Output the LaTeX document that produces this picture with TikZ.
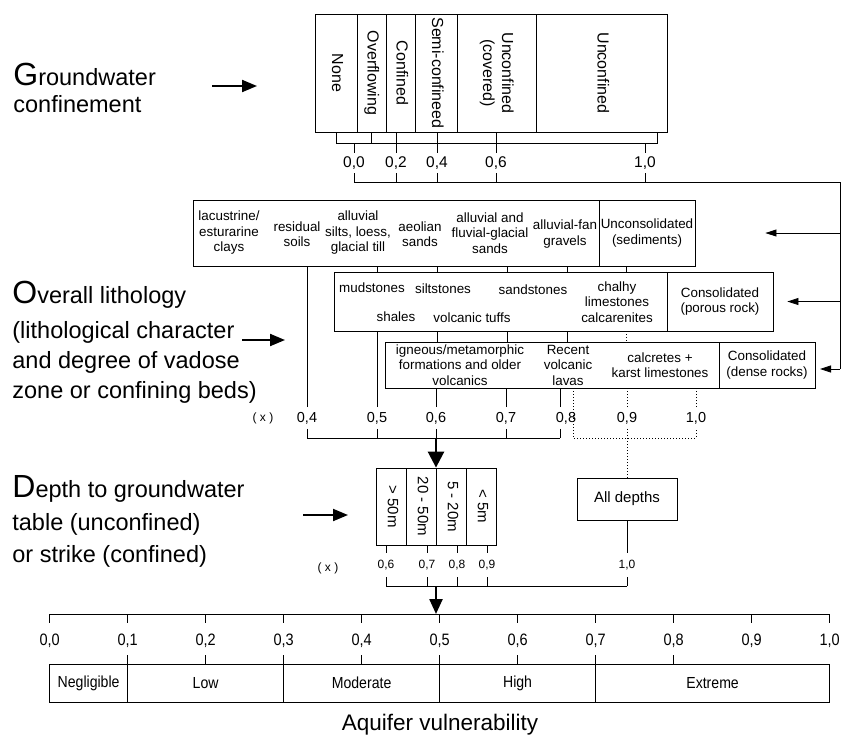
\documentclass[tikz,border=0pt]{standalone}
\usepackage{fontspec}
\usepackage{graphicx}
\setmainfont{Liberation Sans}
\newfontfamily\narrowfont[FakeStretch=0.88]{Liberation Sans}
\usetikzlibrary{arrows.meta}

\newcommand\Ini[1]{{\fontsize{32}{32}\selectfont #1}}
\newcommand\vtext[1]{\rotatebox{-90}{\begin{tabular}{@{}c@{}}#1\end{tabular}}}

\tikzset{
  cell/.style={draw, inner sep=0pt, align=center, font=\fontsize{13.4}{15.5}\selectfont},
  inbox/.style={inner sep=0pt, align=center, font=\fontsize{13.4}{15.5}\selectfont},
  vcell/.style={cell, minimum height=118pt, font=\fontsize{16}{19}\selectfont},
  dcell/.style={cell, minimum width=30pt, minimum height=77pt, font=\fontsize{15}{16}\selectfont},
  gcell/.style={cell, minimum height=38pt, font=\narrowfont\fontsize{16}{16}\selectfont},
  heading/.style={anchor=base west, inner sep=0pt, font=\fontsize{23.5}{27}\selectfont},
  topval/.style={inner sep=0pt, minimum height=20pt, font=\fontsize{15.5}{15.5}\selectfont},
  litval/.style={inner sep=0pt, minimum height=21pt, font=\fontsize{14.5}{14.5}\selectfont},
  depval/.style={inner sep=0pt, minimum height=24pt, font=\fontsize{12}{12}\selectfont},
  axval/.style={inner sep=0pt, minimum height=28pt, font=\narrowfont\fontsize{16.5}{16.5}\selectfont},
  xmark/.style={inner sep=0pt, font=\fontsize{12}{12}\selectfont},
  dots/.style={dash pattern=on 1pt off 2pt},
  sidearrow/.style={line width=2pt, -{Triangle[length=15pt,width=12pt]}},
  rarrow/.style={-{Triangle[length=11pt,width=7pt]}},
  bigarrow/.style={line width=2.6pt, -{Triangle[length=16pt,width=16pt]}}
}

\begin{document}
\begin{tikzpicture}[x=1pt, y=-1pt, line width=0.8pt]
\useasboundingbox (0,0) rectangle (845,737);

% headings on the left
\node[heading] (gw1) at (13,85) {\Ini{G}roundwater};
\node[heading] (gw2) at (13,112) {confinement};
\node[heading] (ol1) at (12,303) {\Ini{O}verall lithology};
\node[heading] (ol2) at (12,338) {(lithological character};
\node[heading] (ol3) at (12,368) {and degree of vadose};
\node[heading] (ol4) at (12,398) {zone or confining beds)};
\node[heading] (dt1) at (12,497) {\Ini{D}epth to groundwater};
\node[heading] (dt2) at (12,530) {table (unconfined)};
\node[heading] (dt3) at (12,562) {or strike (confined)};
\coordinate (gwa) at (212,86);
\coordinate (ola) at (242,340);
\coordinate (dta) at (303,515);
\draw[sidearrow] (gwa) -- ++(45,0);
\draw[sidearrow] (ola) -- ++(43,0);
\draw[sidearrow] (dta) -- ++(45,0);

% groundwater confinement
\node[vcell, minimum width=42pt] (none) at (336,73) {\vtext{None}};
\node[vcell, minimum width=29pt] (overfl) at (371.5,73) {\vtext{Overflowing}};
\node[vcell, minimum width=29pt] (confd) at (400.5,73) {\vtext{Confined}};
\node[vcell, minimum width=42pt] (semi) at (436,73) {\vtext{Semi-confineed}};
\node[vcell, minimum width=79pt] (uncov) at (496.5,73) {\vtext{Unconfined\\(covered)}};
\node[vcell, minimum width=131pt] (unconf) at (601.5,73) {\vtext{Unconfined}};

\node[topval] (c00) at (354,163) {0,0};
\node[topval] (c02) at (396,163) {0,2};
\node[topval] (c04) at (437,163) {0,4};
\node[topval] (c06) at (496,163) {0,6};
\node[topval] (c10) at (645,163) {1,0};
\coordinate (cbr) at (0,143);
\coordinate (rt) at (840,182);
\coordinate (rb) at (840,369);
\draw (none.south) |- (657,143) -- (657,0 |- unconf.south);
\draw (overfl.south) -- (overfl.south |- cbr);
\draw (c00.north) -- (c00.north |- cbr);
\draw (c10.north) -- (c10.north |- cbr);
\foreach \v/\c in {c02/confd, c04/semi, c06/uncov}
  \draw (\v.north) -- (\v.north |- \c.south);
\foreach \v in {c00,c02,c04,c06,c10}
  \draw (\v.south) -- (\v.south |- rt);
\draw (c00.south |- rt) -- (rt) -- (rb);

% overall lithology
\node[cell, minimum width=406pt, minimum height=66pt] (unc) at (396,233) {};
\node[cell, minimum width=96pt, minimum height=66pt] (sed) at (647,233) {Unconsolidated\\(sediments)};
\node[cell, minimum width=333pt, minimum height=59pt] (porc) at (500.5,301.5) {};
\node[cell, minimum width=106pt, minimum height=59pt] (por) at (720,301.5) {Consolidated\\(porous rock)};
\node[cell, minimum width=334pt, minimum height=46pt] (denc) at (552,365) {};
\node[cell, minimum width=96pt, minimum height=46pt] (den) at (767,365) {Consolidated\\(dense rocks)};

\node[inbox] (clay) at (229,233) {lacustrine/\\esturarine\\clays};
\node[inbox] (soil) at (297,234) {residual\\soils};
\node[inbox] (till) at (358,233) {alluvial\\silts, loess,\\glacial till};
\node[inbox] (aeol) at (420,234) {aeolian\\sands};
\node[inbox] (fluv) at (490,233) {alluvial and\\fluvial-glacial\\sands};
\node[inbox] (fan) at (565,234) {alluvial-fan\\gravels};
\node[inbox] (mud) at (372,288) {mudstones};
\node[inbox] (silt) at (443,289) {siltstones};
\node[inbox] (sand) at (533,290) {sandstones};
\node[inbox] (chalk) at (617,302) {chalhy\\limestones\\calcarenites};
\node[inbox] (shale) at (396,317) {shales};
\node[inbox] (tuff) at (472,318) {volcanic tuffs};
\node[inbox] (igne) at (460,365) {igneous/metamorphic\\formations and older\\volcanics};
\node[inbox] (lava) at (568,365) {Recent\\volcanic\\lavas};
\node[inbox] (karst) at (660,365) {calcretes +\\karst limestones};

\draw[rarrow] (rt |- sed) -- ([xshift=70pt]sed.east);
\draw[rarrow] (rt |- por) -- ([xshift=14pt]por.east);
\draw[rarrow] (rb) -- ++(-20,0);

\node[litval] (l04) at (307,418) {0,4};
\node[litval] (l05) at (377,418) {0,5};
\node[litval] (l06) at (436,418) {0,6};
\node[litval] (l07) at (506,418) {0,7};
\node[litval] (l08) at (566,418) {0,8};
\node[litval] (l09) at (627,418) {0,9};
\node[litval] (l10) at (696,418) {1,0};
\node[xmark] (x1) at (263,418) {( x )};
\coordinate (lbr) at (0,438);

\foreach \x in {377,437,507,567,626}
  \draw (\x,0 |- unc.south) -- (\x,0 |- porc.north);
\foreach \x in {437,507,567}
  \draw (\x,0 |- porc.south) -- (\x,0 |- denc.north);
\draw[dots] (626,0 |- porc.south) -- (626,0 |- denc.north);
\draw (l04.north) -- (l04.north |- unc.south);
\draw (l05.north) -- (l05.north |- porc.south);
\draw (l06.north) -- (l06.north |- denc.south);
\draw (l07.north) -- (l07.north |- denc.south);
\draw (560,0 |- l08.north) -- (560,0 |- denc.south);
\draw[dots] (l09.north) -- (l09.north |- denc.south);
\draw[dots] (l10.north) -- (l10.north |- denc.south);
\foreach \v in {l04,l05,l06,l07}
  \draw (\v.south) -- (\v.south |- lbr);
\draw (560,0 |- l08.south) -- (560,0 |- lbr);
\draw (l04.south |- lbr) -- (560,0 |- lbr);
\draw[dots] (573,0 |- denc.south) -- (573,0 |- lbr) -- (l10.south |- lbr) -- (l10.south);
\draw[dots] (l09.south) -- (l09.south |- lbr);

% depth to groundwater
\node[dcell] (d1) at (391,506.5) {\vtext{> 50m}};
\node[dcell] (d2) at (421,506.5) {\vtext{20 - 50m}};
\node[dcell] (d3) at (451,506.5) {\vtext{5 - 20m}};
\node[dcell] (d4) at (481,506.5) {\vtext{< 5m}};
\node[cell, minimum width=100pt, minimum height=42pt, font=\fontsize{15}{15}\selectfont] (alld) at (627,499) {All depths};
\draw[dots] (l09.south |- lbr) -- (alld.north);
\draw[bigarrow] (l06.south |- lbr) -- (l06.south |- d3.north);

\node[depval] (w06) at (386,565) {0,6};
\node[depval] (w07) at (427,565) {0,7};
\node[depval] (w08) at (457,565) {0,8};
\node[depval] (w09) at (487,565) {0,9};
\node[depval] (w10) at (627,565) {1,0};
\node[xmark] (x2) at (328,568) {( x )};
\coordinate (dbr) at (0,586);
\foreach \v/\c in {w06/d1,w07/d2,w08/d3,w09/d4}
  \draw (\v.north) -- (\v.north |- \c.south);
\draw (alld.south) -- (w10.north);
\foreach \v in {w06,w07,w08,w09,w10}
  \draw (\v.south) -- (\v.south |- dbr);
\draw (w06.south |- dbr) -- (w10.south |- dbr);

% aquifer vulnerability scale
\coordinate (axl) at (49.6,614);
\coordinate (axr) at (829.6,614);
\draw (axl) -- (axr);
\draw[bigarrow, line width=2.4pt, -{Triangle[length=15pt,width=13pt]}] (436,0 |- dbr) -- (436,0 |- axl);
\foreach \k in {0,...,10} {
  \draw ({49.6+78*\k},614) -- ++(0,9);
  \node[axval] (a\k) at ({49.6+78*\k},641) {\ifnum\k=10 1,0\else 0,\k\fi};
}
\node[gcell, minimum width=78pt] (negl) at (88.6,683) {Negligible};
\node[gcell, minimum width=156pt] (low) at (205.6,683) {Low};
\node[gcell, minimum width=156pt] (moder) at (361.6,683) {Moderate};
\node[gcell, minimum width=156pt] (high) at (517.6,683) {High};
\node[gcell, minimum width=234pt] (extr) at (712.6,683) {Extreme};
\foreach \k in {1,...,8}
  \draw (a\k.south) -- (a\k.south |- negl.north);
\node[anchor=base, inner sep=0pt, font=\fontsize{22.5}{22.5}\selectfont] (title) at (440,730) {Aquifer vulnerability};
\end{tikzpicture}
\end{document}
